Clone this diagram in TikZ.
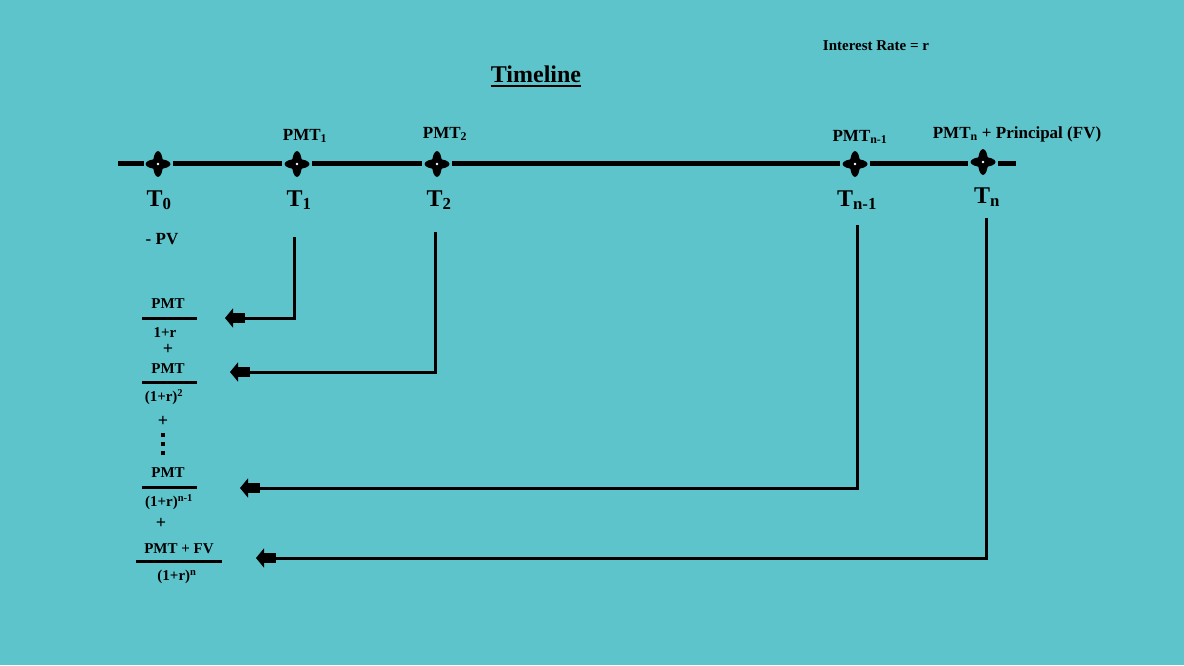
\documentclass[tikz,border=0pt]{standalone}
\usepackage{fontspec}
\setmainfont{Liberation Serif}
\usepackage{tikz}
\usetikzlibrary{positioning,shapes.geometric,arrows.meta}
\definecolor{sea}{RGB}{94,196,203}

\tikzset{
  mark star/.style={fill=black},
  timeline/.style={line width=5pt},
  tlabel/.style={font=\bfseries\fontsize{24}{28}\selectfont, inner sep=0pt, anchor=base},
  plabel/.style={font=\bfseries\fontsize{17}{20}\selectfont, inner sep=0pt, anchor=base},
  frac/.style={font=\bfseries\fontsize{15}{18}\selectfont, inner sep=0pt},
  plus/.style={font=\bfseries\fontsize{18}{20}\selectfont, inner sep=0pt},
  bar/.style={line width=3pt},
  link/.style={line width=3pt, -{Rectangle[length=12pt,width=10pt,sep=0pt]Triangle[length=8pt,width=19pt]}}
}

\begin{document}
\begin{tikzpicture}[x=1pt,y=-1pt]
  \fill[sea] (0,0) rectangle (1184,665);
  \useasboundingbox (0,0) rectangle (1184,665);

  % Title
  \node[font=\bfseries\fontsize{15}{18}\selectfont, inner sep=0pt, anchor=base] (rate) at (876,50) {Interest Rate = r};
  \node[font=\bfseries\fontsize{24}{28}\selectfont, inner sep=0pt, anchor=base] (title) at (536,82) {Timeline};
  \draw[line width=2pt] ([yshift=-4pt]title.base west) -- ([yshift=-4pt]title.base east);

  % Timeline
  \coordinate (L) at (118,163);
  \coordinate (R) at (1016,163);
  \coordinate (s0) at (158,164);
  \coordinate (s1) at (297,164);
  \coordinate (s2) at (437,164);
  \coordinate (s3) at (855,164);
  \coordinate (s4) at (983,162);
  \draw[timeline] (L) -- ([xshift=-14pt]s0 |- L);
  \draw[timeline] ([xshift=15pt]s0 |- L) -- ([xshift=-15pt]s1 |- L);
  \draw[timeline] ([xshift=15pt]s1 |- L) -- ([xshift=-15pt]s2 |- L);
  \draw[timeline] ([xshift=15pt]s2 |- L) -- ([xshift=-15pt]s3 |- L);
  \draw[timeline] ([xshift=15pt]s3 |- L) -- ([xshift=-15pt]s4 |- L);
  \draw[timeline] ([xshift=15pt]s4 |- L) -- (R);
  \foreach \s in {s0,s1,s2,s3,s4} {
    \fill[mark star] (\s) ellipse [x radius=12.5, y radius=5];
    \fill[mark star] (\s) ellipse [x radius=5, y radius=13];
    \fill[mark star] (\s) circle (6.5);
    \fill[white] (\s) circle (1.3pt);
  }

  % Labels
  \node[tlabel] (t0) at (159,206) {T\textsubscript{0}};
  \node[tlabel] (t1) at (299,206) {T\textsubscript{1}};
  \node[tlabel] (t2) at (439,206) {T\textsubscript{2}};
  \node[tlabel] (t3) at (857,206) {T\textsubscript{n-1}};
  \node[tlabel] (t4) at (987,203) {T\textsubscript{n}};
  \node[plabel] (p1) at (305,140) {PMT\textsubscript{1}};
  \node[plabel] (p2) at (445,138) {PMT\textsubscript{2}};
  \node[plabel] (p3) at (860,141) {PMT\textsubscript{n-1}};
  \node[plabel] (p4) at (1017,138) {PMT\textsubscript{n} + Principal (FV)};
  \node[plabel] (pv) at (162,244) {- PV};

  % Fractions
  \node[frac] (n1) at (168,304) {PMT};
  \draw[bar] (142,318) -- (197,318);
  \node[frac] (d1) at (165,333) {1+r};
  \node[plus] (plus1) at (168,349) {+};
  \node[frac] (n2) at (168,369) {PMT};
  \draw[bar] (142,382) -- (197,382);
  \node[frac] (d2) at (164,397) {(1+r)\textsuperscript{2}};
  \node[plus] (plus2) at (163,421) {+};
  \foreach \y in {435,444,453}
    \fill (161,\y-2) rectangle (165,\y+2);
  \node[frac] (n3) at (168,473) {PMT};
  \draw[bar] (142,487) -- (197,487);
  \node[frac] (d3) at (169,502) {(1+r)\textsuperscript{n-1}};
  \node[plus] (plus3) at (161,523) {+};
  \node[frac] (n4) at (179,549) {PMT + FV};
  \draw[bar] (136,561) -- (222,561);
  \node[frac] (d4) at (177,577) {(1+r)\textsuperscript{n}};

  % Discounting links
  \coordinate (c1) at (294,237);
  \coordinate (c2) at (435,232);
  \coordinate (c3) at (857,225);
  \coordinate (c4) at (986,218);
  \coordinate (a1) at (225,318);
  \coordinate (a2) at (230,372);
  \coordinate (a3) at (240,488);
  \coordinate (a4) at (256,558);
  \draw[link] (c1) |- (a1);
  \draw[link] (c2) |- (a2);
  \draw[link] (c3) |- (a3);
  \draw[link] (c4) |- (a4);
\end{tikzpicture}
\end{document}
